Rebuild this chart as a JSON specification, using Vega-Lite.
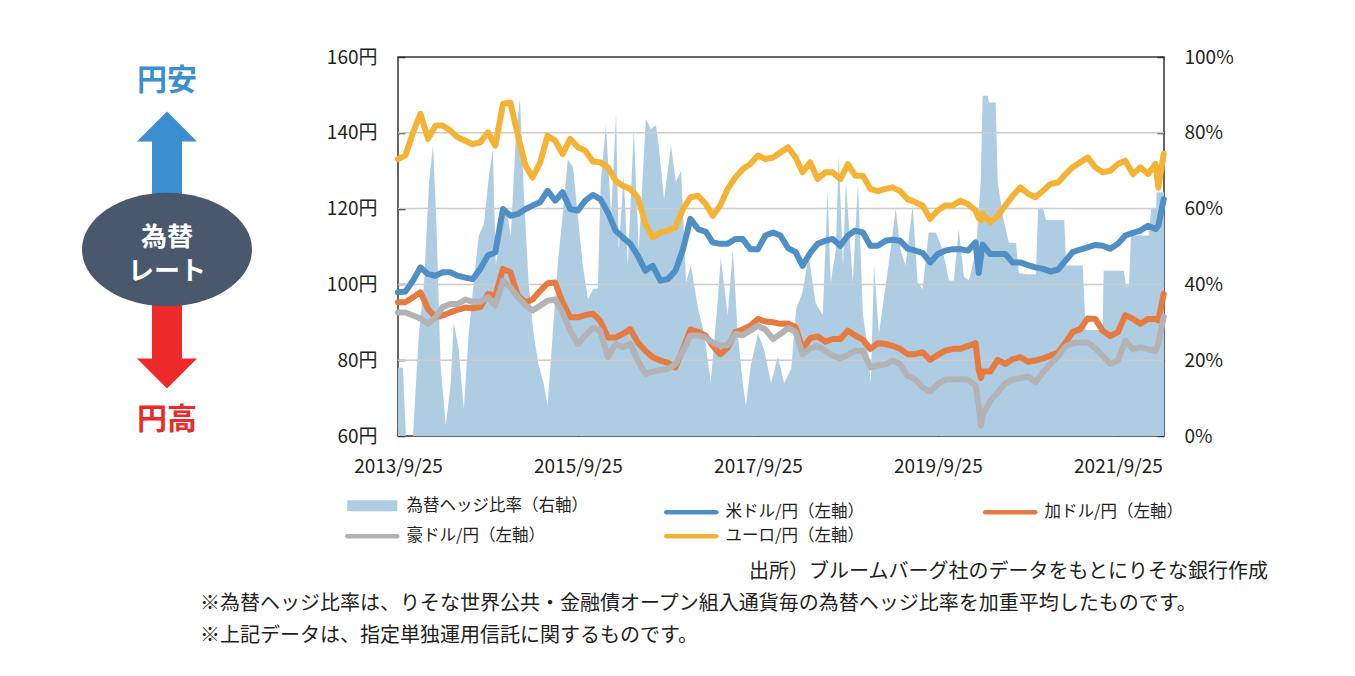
{
"$schema":"https://vega.github.io/schema/vega-lite/v6.json",
"padding":{"left":82,"top":47,"right":5,"bottom":5},
"background":"white",
"config":{"view":{"stroke":null},"font":"Noto Sans CJK JP","text":{"font":"Noto Sans CJK JP"}},
"spacing":82,
"vconcat":[
{"hconcat":[
{"width":170,"height":379,
"data":{"values":[{"k":"円安"},{"k":"up"},{"k":"為替レート"},{"k":"down"},{"k":"円高"}]},
"encoding":{"y":{"field":"k","type":"nominal","scale":{"type":"point","domain":["円安","up","為替レート","down","円高"],"padding":0.24},"axis":null}},
"layer":[
{"transform":[{"filter":"datum.k==='up'"}],"mark":{"type":"point","shape":"M0,-1L0.69,-0.31L0.345,-0.31L0.345,1L-0.345,1L-0.345,-0.31L-0.69,-0.31Z","size":7569,"filled":true,"fill":"#3a8fd0","opacity":1,"strokeWidth":0,"yOffset":-7}},
{"transform":[{"filter":"datum.k==='down'"}],"mark":{"type":"point","shape":"M0,1L0.69,0.31L0.345,0.31L0.345,-1L-0.345,-1L-0.345,0.31L-0.69,0.31Z","size":7569,"filled":true,"fill":"#ee2a2a","opacity":1,"strokeWidth":0,"yOffset":14}},
{"transform":[{"filter":"datum.k==='為替レート'"}],"mark":{"type":"point","shape":"M-1,0A1,0.667,0,1,0,1,0A1,0.667,0,1,0,-1,0Z","size":28900,"filled":true,"fill":"#4a586e","opacity":1,"strokeWidth":0,"yOffset":3}},
{"transform":[{"filter":"datum.k==='為替レート'"}],"mark":{"type":"text","text":["為替","レート"],"fontSize":26,"fontWeight":"bold","color":"#ffffff","lineHeight":34,"baseline":"middle","align":"center","dy":-9}},
{"transform":[{"filter":"datum.k==='円安'"}],"mark":{"type":"text","fontSize":30,"fontWeight":"bold","color":"#3a8fd0","baseline":"middle","align":"center","dy":4},"encoding":{"text":{"field":"k"}}},
{"transform":[{"filter":"datum.k==='円高'"}],"mark":{"type":"text","fontSize":30,"fontWeight":"bold","color":"#ec2a2a","baseline":"middle","align":"center","dy":4},"encoding":{"text":{"field":"k"}}}
]},
{"width":766,"height":379,
"view":{"stroke":"#333333","strokeWidth":1.5},
"resolve":{"scale":{"y":"independent"}},
"layer":[
{"data":{"values":[
{"d":"2013/09/25","h":18},{"d":"2013/10/15","h":18},{"d":"2013/10/27","h":0},{"d":"2013/11/25","h":0},{"d":"2013/12/07","h":14},{"d":"2013/12/19","h":27},{"d":"2014/01/09","h":40.5},{"d":"2014/01/29","h":67},{"d":"2014/02/14","h":76.6},{"d":"2014/02/27","h":58},{"d":"2014/03/17","h":18.6},{"d":"2014/04/07","h":2.7},{"d":"2014/04/27","h":14},{"d":"2014/05/09","h":30},{"d":"2014/05/29","h":23},{"d":"2014/06/19","h":7},{"d":"2014/07/09","h":27},{"d":"2014/07/29","h":40.5},{"d":"2014/08/19","h":52.9},{"d":"2014/09/09","h":56},{"d":"2014/09/29","h":68.7},{"d":"2014/10/15","h":75.7},{"d":"2014/10/27","h":45},{"d":"2014/11/17","h":53.7},{"d":"2014/12/07","h":60},{"d":"2014/12/27","h":52.9},{"d":"2015/01/17","h":80},{"d":"2015/02/02","h":89},{"d":"2015/02/19","h":62.5},{"d":"2015/03/09","h":40.5},{"d":"2015/03/29","h":27},{"d":"2015/04/19","h":18.6},{"d":"2015/05/09","h":14},{"d":"2015/05/25","h":8},{"d":"2015/06/15","h":27},{"d":"2015/07/05","h":45},{"d":"2015/07/25","h":58},{"d":"2015/08/15","h":73},{"d":"2015/09/05","h":71},{"d":"2015/09/25","h":58},{"d":"2015/10/15","h":45},{"d":"2015/11/05","h":36},{"d":"2015/11/25","h":38.7},{"d":"2015/12/15","h":39},{"d":"2015/12/27","h":67},{"d":"2016/01/17","h":82},{"d":"2016/02/07","h":58},{"d":"2016/02/27","h":85},{"d":"2016/03/09","h":49},{"d":"2016/03/29","h":69},{"d":"2016/04/15","h":45},{"d":"2016/05/09","h":81},{"d":"2016/05/29","h":49},{"d":"2016/06/27","h":83.6},{"d":"2016/07/17","h":81},{"d":"2016/08/07","h":82},{"d":"2016/08/19","h":76},{"d":"2016/09/09","h":62.5},{"d":"2016/10/07","h":76.6},{"d":"2016/10/27","h":67},{"d":"2016/11/17","h":70},{"d":"2016/12/07","h":40.5},{"d":"2016/12/27","h":45},{"d":"2017/01/25","h":33.5},{"d":"2017/02/19","h":27},{"d":"2017/03/17","h":14},{"d":"2017/04/15","h":36},{"d":"2017/04/27","h":47},{"d":"2017/05/25","h":32},{"d":"2017/06/15","h":49},{"d":"2017/07/05","h":27},{"d":"2017/07/25","h":14},{"d":"2017/08/07","h":8},{"d":"2017/08/27","h":18.6},{"d":"2017/09/25","h":27},{"d":"2017/10/19","h":23},{"d":"2017/11/17","h":14},{"d":"2017/12/15","h":21},{"d":"2018/01/09","h":14},{"d":"2018/02/07","h":17.7},{"d":"2018/02/27","h":33.5},{"d":"2018/03/25","h":38},{"d":"2018/04/19","h":47.6},{"d":"2018/05/17","h":35},{"d":"2018/06/15","h":32},{"d":"2018/07/05","h":65},{"d":"2018/07/17","h":40.5},{"d":"2018/08/07","h":49},{"d":"2018/08/19","h":74},{"d":"2018/09/05","h":45},{"d":"2018/09/17","h":67},{"d":"2018/10/15","h":40.5},{"d":"2018/11/05","h":67},{"d":"2018/11/25","h":32},{"d":"2018/12/15","h":23},{"d":"2018/12/27","h":14},{"d":"2019/01/09","h":45},{"d":"2019/01/29","h":27},{"d":"2019/02/27","h":40.5},{"d":"2019/03/17","h":49},{"d":"2019/04/07","h":60},{"d":"2019/04/27","h":49},{"d":"2019/05/17","h":45},{"d":"2019/06/15","h":60.8},{"d":"2019/07/05","h":40.5},{"d":"2019/07/25","h":38.8},{"d":"2019/08/19","h":53.7},{"d":"2019/09/17","h":53.7},{"d":"2019/10/15","h":49},{"d":"2019/11/09","h":41},{"d":"2019/11/29","h":41},{"d":"2019/12/19","h":54.6},{"d":"2020/01/09","h":42},{"d":"2020/01/29","h":41},{"d":"2020/02/27","h":49},{"d":"2020/03/17","h":67},{"d":"2020/03/25","h":89.8},{"d":"2020/04/15","h":89.8},{"d":"2020/04/19","h":88},{"d":"2020/05/17","h":88},{"d":"2020/05/25","h":67},{"d":"2020/06/15","h":58},{"d":"2020/07/09","h":51},{"d":"2020/08/07","h":51},{"d":"2020/08/19","h":43},{"d":"2020/09/17","h":42.7},{"d":"2020/10/27","h":42.7},{"d":"2020/11/05","h":60},{"d":"2020/11/25","h":60},{"d":"2020/12/07","h":57},{"d":"2021/02/19","h":57},{"d":"2021/02/27","h":45},{"d":"2021/05/05","h":45},{"d":"2021/05/17","h":28},{"d":"2021/07/25","h":28},{"d":"2021/07/29","h":43.6},{"d":"2021/10/19","h":43.6},{"d":"2021/10/27","h":39.7},{"d":"2021/11/09","h":39.7},{"d":"2021/11/17","h":52.9},{"d":"2022/01/29","h":52.9},{"d":"2022/02/07","h":60},{"d":"2022/02/27","h":60},{"d":"2022/03/01","h":64.3},{"d":"2022/03/31","h":64.3}
]},
"mark":{"type":"area","color":"#aecde3","opacity":1,"interpolate":"linear"},
"encoding":{
"x":{"field":"d","type":"temporal","scale":{"domain":[{"year":2013,"month":9,"date":25},{"year":2022,"month":3,"date":31}]},
"axis":{"values":[{"year":2013,"month":9,"date":25},{"year":2015,"month":9,"date":25},{"year":2017,"month":9,"date":25},{"year":2019,"month":9,"date":25},{"year":2021,"month":9,"date":25}],"format":"%Y/%-m/%-d","labelFlush":false,"labelOverlap":false,"tickSize":-7,"tickColor":"#333333","tickWidth":1.5,"domain":false,"grid":false,"labelPadding":28,"labelFontSize":19,"labelColor":"#231f20","labelFont":"Noto Sans CJK JP","title":null}},
"y":{"field":"h","type":"quantitative","scale":{"domain":[0,100]},
"axis":{"orient":"right","values":[0,20,40,60,80,100],"labelExpr":"datum.value + '%'","labelFlush":false,"tickSize":-7,"tickColor":"#333333","tickWidth":1.5,"domain":false,"grid":false,"labelPadding":27,"labelFontSize":19,"labelColor":"#231f20","labelFont":"Noto Sans CJK JP","title":null}},
"color":{"datum":"hedge","type":"nominal"}
}},
{"data":{"values":[{"v":80},{"v":100},{"v":120},{"v":140}]},
"mark":{"type":"rule","color":"#cccccc","strokeWidth":1.5},
"encoding":{"y":{"field":"v","type":"quantitative","scale":{"domain":[60,160]},"axis":null}}},
{"data":{"values":[
{"d":"2013/09/25","usd":97.9,"cad":95.3,"aud":92.6,"eur":133.1},
{"d":"2013/10/25","usd":98.1,"cad":95.3,"aud":92.6,"eur":134},
{"d":"2013/11/25","usd":101,"cad":96.6,"aud":91.8,"eur":140.1},
{"d":"2013/12/25","usd":104.5,"cad":97.9,"aud":91,"eur":145},
{"d":"2014/01/25","usd":102.7,"cad":93.5,"aud":89.6,"eur":138.4},
{"d":"2014/02/25","usd":102.3,"cad":91.3,"aud":91.3,"eur":141.9},
{"d":"2014/03/25","usd":103.2,"cad":91.8,"aud":94,"eur":141.9},
{"d":"2014/04/25","usd":103.2,"cad":92.6,"aud":94.8,"eur":140.6},
{"d":"2014/05/25","usd":102.3,"cad":93.3,"aud":94.8,"eur":138.8},
{"d":"2014/06/25","usd":101.8,"cad":93.9,"aud":96,"eur":137.9},
{"d":"2014/07/25","usd":101.4,"cad":93.7,"aud":95.4,"eur":137},
{"d":"2014/08/25","usd":104.1,"cad":94,"aud":95.4,"eur":137.5},
{"d":"2014/09/25","usd":107.6,"cad":97.5,"aud":96.6,"eur":140.1},
{"d":"2014/10/25","usd":108.5,"cad":97,"aud":94.4,"eur":136.6},
{"d":"2014/11/25","usd":119.9,"cad":104.1,"aud":101,"eur":147.6},
{"d":"2014/12/25","usd":118.1,"cad":103.2,"aud":99.2,"eur":148},
{"d":"2015/01/25","usd":118.6,"cad":97,"aud":96.6,"eur":139.2},
{"d":"2015/02/25","usd":119.9,"cad":95.3,"aud":94.4,"eur":131.3},
{"d":"2015/03/25","usd":120.8,"cad":96,"aud":93.1,"eur":128.2},
{"d":"2015/04/25","usd":121.7,"cad":98.3,"aud":94.4,"eur":132.2},
{"d":"2015/05/25","usd":124.7,"cad":100.3,"aud":95.7,"eur":139.2},
{"d":"2015/06/25","usd":122.1,"cad":100.5,"aud":96,"eur":137.9},
{"d":"2015/07/25","usd":124.3,"cad":95.3,"aud":92.6,"eur":134.4},
{"d":"2015/08/25","usd":119.9,"cad":91.3,"aud":87.8,"eur":138.4},
{"d":"2015/09/25","usd":119.5,"cad":91.3,"aud":84.3,"eur":136.2},
{"d":"2015/10/25","usd":122.1,"cad":91.9,"aud":86.5,"eur":135.3},
{"d":"2015/11/25","usd":123.6,"cad":92.3,"aud":88.5,"eur":132.4},
{"d":"2015/12/25","usd":122.5,"cad":90.4,"aud":87.8,"eur":132.2},
{"d":"2016/01/25","usd":119,"cad":86,"aud":80.8,"eur":130.9},
{"d":"2016/02/25","usd":114.2,"cad":86,"aud":84.3,"eur":127.4},
{"d":"2016/03/25","usd":112.4,"cad":86.9,"aud":83.4,"eur":126},
{"d":"2016/04/25","usd":110.7,"cad":88.2,"aud":84.3,"eur":125.2},
{"d":"2016/05/25","usd":107.6,"cad":84.7,"aud":79.9,"eur":123},
{"d":"2016/06/25","usd":103.6,"cad":82.5,"aud":76.4,"eur":116},
{"d":"2016/07/25","usd":104.9,"cad":80.8,"aud":77,"eur":112.4},
{"d":"2016/08/25","usd":101,"cad":79.9,"aud":77.4,"eur":113.7},
{"d":"2016/09/25","usd":101.4,"cad":79.3,"aud":77.7,"eur":114.2},
{"d":"2016/10/25","usd":103.6,"cad":78.1,"aud":79,"eur":115.1},
{"d":"2016/11/25","usd":109.3,"cad":83,"aud":82.5,"eur":119.9},
{"d":"2016/12/25","usd":117.3,"cad":88.1,"aud":86.5,"eur":123},
{"d":"2017/01/25","usd":114.6,"cad":87.5,"aud":86.5,"eur":123.4},
{"d":"2017/02/25","usd":113.9,"cad":86.5,"aud":86,"eur":121.2},
{"d":"2017/03/25","usd":111.1,"cad":83.8,"aud":84.7,"eur":118.1},
{"d":"2017/04/25","usd":110.7,"cad":81.6,"aud":83.8,"eur":120.8},
{"d":"2017/05/25","usd":110.7,"cad":83.3,"aud":84,"eur":125.2},
{"d":"2017/06/25","usd":112,"cad":87.4,"aud":86.9,"eur":128.2},
{"d":"2017/07/25","usd":112,"cad":88.1,"aud":86.6,"eur":130.4},
{"d":"2017/08/25","usd":109.3,"cad":89.1,"aud":87.8,"eur":131.8},
{"d":"2017/09/25","usd":109.3,"cad":90.9,"aud":89.1,"eur":134},
{"d":"2017/10/25","usd":112.9,"cad":90.2,"aud":88.1,"eur":133.1},
{"d":"2017/11/25","usd":113.7,"cad":90,"aud":85.6,"eur":133.5},
{"d":"2017/12/25","usd":112.9,"cad":89.6,"aud":86.9,"eur":134.8},
{"d":"2018/01/25","usd":109.6,"cad":89.7,"aud":88.5,"eur":136.2},
{"d":"2018/02/25","usd":108.5,"cad":88.7,"aud":87.4,"eur":133.5},
{"d":"2018/03/25","usd":104.9,"cad":83,"aud":81.6,"eur":129.6},
{"d":"2018/04/25","usd":108.3,"cad":85.8,"aud":83.1,"eur":132.2},
{"d":"2018/05/25","usd":110.7,"cad":86.3,"aud":83.7,"eur":127.8},
{"d":"2018/06/25","usd":111.5,"cad":84.9,"aud":82.5,"eur":129.6},
{"d":"2018/07/25","usd":112,"cad":85.6,"aud":81.2,"eur":129.6},
{"d":"2018/08/25","usd":110.2,"cad":85.6,"aud":80.5,"eur":127.8},
{"d":"2018/09/25","usd":112.9,"cad":87.8,"aud":81.4,"eur":131.7},
{"d":"2018/10/25","usd":114.2,"cad":86.5,"aud":82.5,"eur":128.7},
{"d":"2018/11/25","usd":113.7,"cad":85.4,"aud":82.5,"eur":128.7},
{"d":"2018/12/25","usd":110.2,"cad":83,"aud":78.1,"eur":125.2},
{"d":"2019/01/25","usd":110.2,"cad":84.5,"aud":78.6,"eur":124.6},
{"d":"2019/02/25","usd":111.5,"cad":84.3,"aud":78.9,"eur":125.2},
{"d":"2019/03/25","usd":111.8,"cad":83.8,"aud":79.9,"eur":125.6},
{"d":"2019/04/25","usd":111.5,"cad":83,"aud":79,"eur":124.6},
{"d":"2019/05/25","usd":109.5,"cad":81.6,"aud":75.9,"eur":122.5},
{"d":"2019/06/25","usd":108.9,"cad":81.6,"aud":75,"eur":121.7},
{"d":"2019/07/25","usd":108.3,"cad":82.1,"aud":72.8,"eur":120.8},
{"d":"2019/08/25","usd":105.8,"cad":80.1,"aud":71.7,"eur":117.3},
{"d":"2019/09/25","usd":108,"cad":81.4,"aud":73.7,"eur":119.5},
{"d":"2019/10/25","usd":108.9,"cad":82.5,"aud":74.9,"eur":120.8},
{"d":"2019/11/25","usd":109.3,"cad":83,"aud":75,"eur":120.8},
{"d":"2019/12/25","usd":109.3,"cad":83,"aud":75,"eur":122.1},
{"d":"2020/01/25","usd":108.9,"cad":83.7,"aud":74.9,"eur":121.2},
{"d":"2020/02/25","usd":111.1,"cad":84.5,"aud":73.3,"eur":119.5},
{"d":"2020/03/09","usd":103,"cad":77.5,"aud":68,"eur":117.5},
{"d":"2020/03/18","usd":107.5,"cad":75.3,"aud":62.8,"eur":117},
{"d":"2020/03/25","usd":110.5,"cad":77,"aud":65.5,"eur":118.6},
{"d":"2020/04/25","usd":108,"cad":77,"aud":69.3,"eur":116.4},
{"d":"2020/05/25","usd":108,"cad":80.1,"aud":71.5,"eur":118.1},
{"d":"2020/06/25","usd":108,"cad":79,"aud":73.9,"eur":120.8},
{"d":"2020/07/25","usd":105.8,"cad":80.3,"aud":74.9,"eur":123.4},
{"d":"2020/08/25","usd":105.8,"cad":80.8,"aud":75.2,"eur":125.6},
{"d":"2020/09/25","usd":105.1,"cad":79.6,"aud":75.7,"eur":123.9},
{"d":"2020/10/25","usd":104.5,"cad":79.9,"aud":74.2,"eur":123},
{"d":"2020/11/25","usd":104.1,"cad":80.5,"aud":76.8,"eur":124.7},
{"d":"2020/12/25","usd":103.4,"cad":81.2,"aud":79,"eur":126.5},
{"d":"2021/01/25","usd":103.9,"cad":82,"aud":81,"eur":126.9},
{"d":"2021/02/25","usd":106.3,"cad":84.7,"aud":83.7,"eur":129.1},
{"d":"2021/03/25","usd":108.5,"cad":87.4,"aud":84.5,"eur":130.9},
{"d":"2021/04/25","usd":109.2,"cad":88.2,"aud":84.7,"eur":132.2},
{"d":"2021/05/25","usd":109.8,"cad":91,"aud":84.7,"eur":133.5},
{"d":"2021/06/25","usd":110.4,"cad":90.9,"aud":83.1,"eur":130.9},
{"d":"2021/07/25","usd":110.2,"cad":87.8,"aud":81.2,"eur":129.6},
{"d":"2021/08/25","usd":109.4,"cad":86.4,"aud":79,"eur":130},
{"d":"2021/09/25","usd":110.7,"cad":87.4,"aud":79.9,"eur":131.8},
{"d":"2021/10/25","usd":112.9,"cad":91.9,"aud":85.2,"eur":132.6},
{"d":"2021/11/25","usd":113.6,"cad":90.9,"aud":82.9,"eur":129.1},
{"d":"2021/12/25","usd":114.2,"cad":89.6,"aud":83.4,"eur":130.9},
{"d":"2022/01/25","usd":115.5,"cad":90.9,"aud":82.9,"eur":129.1},
{"d":"2022/02/25","usd":114.6,"cad":90.9,"aud":82.5,"eur":131.8},
{"d":"2022/03/08","usd":115.5,"cad":90.5,"aud":84.5,"eur":125.5},
{"d":"2022/03/30","usd":122.5,"cad":97.5,"aud":91.5,"eur":134.5}
]},
"transform":[{"fold":["usd","cad","aud","eur"],"as":["key","val"]}],
"mark":{"type":"line","strokeWidth":6,"strokeCap":"round","strokeJoin":"round"},
"encoding":{
"x":{"field":"d","type":"temporal"},
"y":{"field":"val","type":"quantitative","scale":{"domain":[60,160]},
"axis":{"orient":"left","values":[60,80,100,120,140,160],"labelExpr":"datum.value + '円'","labelFlush":false,"tickSize":-7,"tickColor":"#333333","tickWidth":1.5,"domain":false,"grid":false,"labelPadding":28,"labelFontSize":19,"labelColor":"#231f20","labelFont":"Noto Sans CJK JP","title":null}},
"color":{"field":"key","type":"nominal",
"scale":{"domain":["hedge","usd","cad","aud","eur"],"range":["#aecde3","#4f8fc6","#e57b40","#b3b3b5","#f5b335"]},
"legend":{"orient":"none","legendX":282,"legendY":440,"direction":"horizontal","columns":3,"gridAlign":"all","columnPadding":69,"rowPadding":-17,"title":null,
"symbolType":"stroke","symbolSize":2500,"symbolStrokeWidth":4.5,"labelFontSize":16.5,"labelFont":"Noto Sans CJK JP","labelColor":"#231f20","labelOffset":26,"labelLimit":300,
"labelExpr":"datum.label === 'hedge' ? '為替ヘッジ比率（右軸）' : datum.label === 'usd' ? '米ドル/円（左軸）' : datum.label === 'cad' ? '加ドル/円（左軸）' : datum.label === 'aud' ? '豪ドル/円（左軸）' : 'ユーロ/円（左軸）'",
"encode":{"symbols":{"update":{"stroke":{"scale":"color","field":"value"},"strokeWidth":{"signal":"datum.value === 'hedge' ? 11 : 4.5"},"strokeCap":{"signal":"datum.value === 'hedge' ? 'butt' : 'round'"},"opacity":{"value":1}}}}}
}}}
]}
],"spacing":73},
{"width":1186,"height":90,
"data":{"values":[{"k":"src","t":"出所）ブルームバーグ社のデータをもとにりそな銀行作成"},{"k":"n1","t":"※為替ヘッジ比率は、りそな世界公共・金融債オープン組入通貨毎の為替ヘッジ比率を加重平均したものです。"},{"k":"n2","t":"※上記データは、指定単独運用信託に関するものです。"}]},
"encoding":{"y":{"field":"k","type":"nominal","scale":{"type":"point","domain":["src","n1","n2"],"padding":0.4},"axis":null},"text":{"field":"t"}},
"layer":[
{"transform":[{"filter":"datum.k==='src'"}],"mark":{"type":"text","align":"right","baseline":"middle","fontSize":20,"color":"#231f20"},"encoding":{"x":{"value":"width"}}},
{"transform":[{"filter":"datum.k!=='src'"}],"mark":{"type":"text","align":"left","baseline":"middle","fontSize":20,"color":"#231f20"},"encoding":{"x":{"value":118}}}
]}
]
}
